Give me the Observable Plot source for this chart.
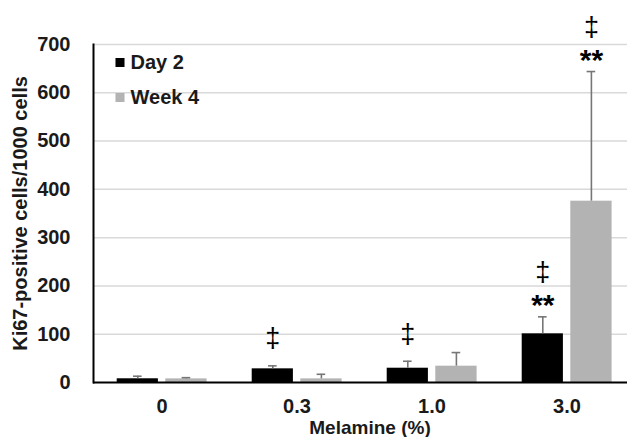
<!DOCTYPE html>
<html>
<head>
<meta charset="utf-8">
<script src="https://cdn.jsdelivr.net/npm/d3@7"></script>
<script src="https://cdn.jsdelivr.net/npm/@observablehq/plot@0.6"></script>
<style>
  html, body { margin: 0; padding: 0; background: #fff; }
</style>
</head>
<body>
<div id="chart"></div>
<script>
// ---- data ----
const categories = ["0", "0.3", "1.0", "3.0"];
const seriesNames = ["Day 2", "Week 4"];
const day2Mean = [7.7, 28.3, 29.6, 100.8];
const day2SD = [5.3, 6.2, 14.4, 35.2];
const week4Mean = [7.5, 7.5, 33.8, 375.5];
const week4SD = [2.5, 9.5, 28.2, 268.5];
const day2Dagger = [false, true, true, true];
const day2Star = [false, false, false, true];
const week4Dagger = [false, false, false, true];
const week4Star = [false, false, false, true];
const yTicks = [0, 100, 200, 300, 400, 500, 600, 700];

const colors = {"Day 2": "#000000", "Week 4": "#b3b3b3"};

function rowsFor(name, mean, sd, dag, star) {
  return categories.map((c, i) => ({
    category: c, series: name, mean: mean[i], top: mean[i] + sd[i],
    dagger: dag[i], star: star[i]
  }));
}
const day2Rows = rowsFor("Day 2", day2Mean, day2SD, day2Dagger, day2Star);
const week4Rows = rowsFor("Week 4", week4Mean, week4SD, week4Dagger, week4Star);

const font = "'Liberation Sans', Arial, sans-serif";
const textColor = "#1a1a1a";
const errColor = "#767676";

// per-series geometry within each category band (band width ~135.4px)
const geom = {
  "Day 2":  {insetLeft: 22.7, insetRight: 71.1, dx: -24.2, capL: 39.0, capR: 87.4},
  "Week 4": {insetLeft: 71.3, insetRight: 22.4, dx: 24.4, capL: 87.6, capR: 38.8}
};

function seriesMarks(rows, name) {
  const g = geom[name];
  return [
    Plot.barY(rows, {x: "category", y: "mean", fill: colors[name],
      insetLeft: g.insetLeft, insetRight: g.insetRight}),
    Plot.ruleX(rows, {x: "category", y1: "mean", y2: "top", dx: g.dx,
      stroke: errColor, strokeWidth: 1.6}),
    Plot.tickY(rows, {x: "category", y: "top", stroke: errColor, strokeWidth: 1.6,
      insetLeft: g.capL, insetRight: g.capR}),
    Plot.text(rows.filter(d => d.star), {x: "category", y: "top", text: () => "**",
      dx: g.dx, dy: -11, fontSize: 30, fontWeight: "bold", fill: "#000"}),
    Plot.text(rows.filter(d => d.dagger && !d.star), {x: "category", y: "top", text: () => "‡",
      dx: g.dx, dy: -27, fontSize: 27, fill: "#000"}),
    Plot.text(rows.filter(d => d.dagger && d.star), {x: "category", y: "top", text: () => "‡",
      dx: g.dx, dy: -44, fontSize: 27, fill: "#000"})
  ];
}

const legendMarks = seriesNames.flatMap((name, i) => [
  Plot.dot([name], {frameAnchor: "top-left", dx: 26.5, dy: 18 + 35 * i,
    symbol: "square", r: 5.1, fill: colors[name], stroke: "none"}),
  Plot.text([name], {frameAnchor: "top-left", dx: 37, dy: 18 + 35 * i,
    textAnchor: "start", lineAnchor: "middle", fontSize: 20, fontWeight: "bold", fill: textColor})
]);

const chart = Plot.plot({
  width: 627,
  height: 437,
  marginLeft: 93,
  marginRight: 0,
  marginTop: 44,
  marginBottom: 55,
  style: {fontFamily: font, color: textColor, background: "#fff", overflow: "visible"},
  x: {type: "band", domain: categories, range: [93, 634.6], padding: 0},
  y: {domain: [0, 700], ticks: yTicks},
  marks: [
    Plot.ruleY(yTicks.filter(v => v > 0), {stroke: "#d9d9d9", strokeWidth: 1.5}),
    ...seriesMarks(day2Rows, "Day 2"),
    ...seriesMarks(week4Rows, "Week 4"),
    Plot.ruleY([0], {stroke: "#000", strokeWidth: 2}),
    Plot.frame({anchor: "left", stroke: "#000", strokeWidth: 2}),
    Plot.axisY({ticks: yTicks, tickSize: 0, tickPadding: 23, label: null,
      fontSize: 20, fontWeight: "bold", tickFormat: d => String(d)}),
    Plot.axisX({tickSize: 0, tickPadding: 16, label: null, fontSize: 20, fontWeight: "bold"}),
    Plot.text(["Melamine (%)"], {frameAnchor: "bottom", dx: 9.5, dy: 38,
      textAnchor: "middle", lineAnchor: "top", fontSize: 19, fontWeight: "bold", fill: textColor}),
    Plot.text(["Ki67-positive cells/1000 cells"], {frameAnchor: "left", dx: -72.5,
      rotate: -90, textAnchor: "middle", lineAnchor: "middle", fontSize: 20, fontWeight: "bold", fill: textColor}),
    ...legendMarks
  ]
});
document.getElementById("chart").appendChild(chart);
</script>
</body>
</html>
